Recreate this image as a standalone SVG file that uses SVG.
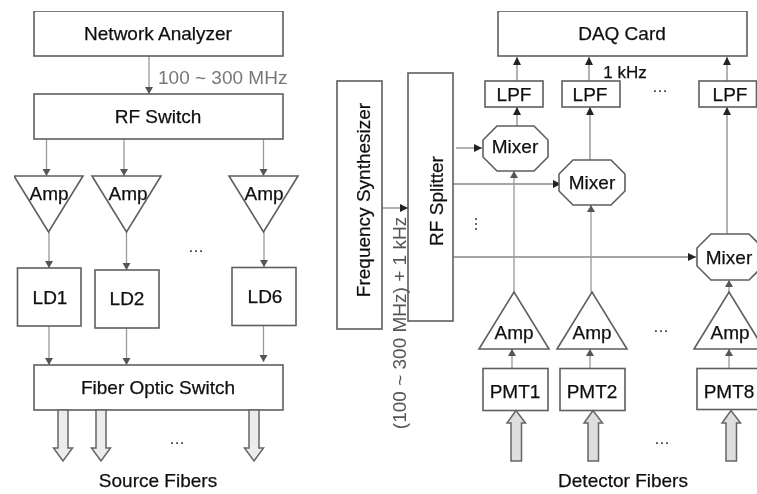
<svg xmlns="http://www.w3.org/2000/svg" width="757" height="494" viewBox="0 0 757 494">
<style>
.b{fill:#fff;stroke:#5e5e5e;stroke-width:1.6}
.t{font-family:"Liberation Sans",Arial,sans-serif;font-size:19px;fill:#111;stroke:#111;stroke-width:.25;text-anchor:middle}
.d{font-family:"Liberation Sans",Arial,sans-serif;font-size:16px;fill:#222;text-anchor:middle}
.c{fill:none;stroke:#999;stroke-width:1.3;marker-end:url(#a)}
.k{fill:none;stroke:#888;stroke-width:1.3;marker-end:url(#k)}
.f{fill:#ececec;stroke:#666;stroke-width:1.5}
.h{fill:#dedede;stroke:#666;stroke-width:1.5}
</style>
<defs>
<marker id="a" markerUnits="userSpaceOnUse" markerWidth="8" markerHeight="9" refX="7" refY="4" orient="auto"><path d="M0,0 L7,4 L0,8 Z" fill="#555"/></marker>
<marker id="k" markerUnits="userSpaceOnUse" markerWidth="9" markerHeight="9" refX="8" refY="4" orient="auto"><path d="M0,0 L8,4 L0,8 Z" fill="#222"/></marker>
<filter id="s" x="0" y="0" width="100%" height="100%"><feGaussianBlur stdDeviation="0.5"/></filter>
</defs>
<rect width="757" height="494" fill="#fff"/>
<g filter="url(#s)">
<g id="connectors">
<path class="c" d="M149,56V94"/>
<path class="c" d="M46.500,139V176"/>
<path class="c" d="M124,139V176"/>
<path class="c" d="M263.500,139V176"/>
<path class="c" d="M49,232V268"/>
<path class="c" d="M126.500,232V270"/>
<path class="c" d="M264,232V267"/>
<path class="c" d="M49,326V365"/>
<path class="c" d="M126.500,328V365"/>
<path class="c" d="M263.500,325V362"/>
<path class="k" d="M382,208H408"/>
<path class="k" d="M456,148H482"/>
<path class="k" d="M453,184H561"/>
<path class="k" d="M453,257H696"/>
<path class="k" d="M517,81V57"/>
<path class="k" d="M589,81V57"/>
<path class="k" d="M727,81V57"/>
<path class="k" d="M517,126V107"/>
<path class="k" d="M590,160V107"/>
<path class="k" d="M727,234V107"/>
<path class="c" d="M514,292V171"/>
<path class="c" d="M591,292V205"/>
<path class="c" d="M729,292V280"/>
<path class="c" d="M512,368V349"/>
<path class="c" d="M590,368V349"/>
<path class="c" d="M729,368V349"/>
</g>
<g id="network-analyzer"><rect class="b" x="34" y="11" width="249" height="45"/><text class="t" x="158" y="40">Network Analyzer</text></g>
<text x="158" y="84" font-family="'Liberation Sans',Arial,sans-serif" font-size="19" fill="#777">100 ~ 300 MHz</text>
<g id="rf-switch"><rect class="b" x="34" y="94" width="249" height="45"/><text class="t" x="158" y="123">RF Switch</text></g>
<g id="amp-s1"><path class="b" d="M14,176H83L48.500,232Z"/><text class="t" x="49" y="200">Amp</text></g>
<g id="amp-s2"><path class="b" d="M92,176H161L126.500,232Z"/><text class="t" x="128" y="200">Amp</text></g>
<g id="amp-s6"><path class="b" d="M229,176H298L263.500,232Z"/><text class="t" x="264" y="200">Amp</text></g>
<text class="d" x="196" y="252">…</text>
<g id="ld1"><rect class="b" x="17.500" y="268" width="63.500" height="58"/><text class="t" x="50" y="304">LD1</text></g>
<g id="ld2"><rect class="b" x="95" y="270" width="64" height="58"/><text class="t" x="127" y="305">LD2</text></g>
<g id="ld6"><rect class="b" x="232" y="267.500" width="64" height="58"/><text class="t" x="265" y="303">LD6</text></g>
<g id="fiber-optic-switch"><rect class="b" x="34" y="365" width="249" height="45"/><text class="t" x="158" y="394">Fiber Optic Switch</text></g>
<g id="source-fibers">
<path class="f" d="M58,410H68V448H72.500L63,461L53.500,448H58Z"/>
<path class="f" d="M96,410H106V448H110.500L101,461L91.500,448H96Z"/>
<path class="f" d="M249,410H259V448H263.500L254,461L244.500,448H249Z"/>
</g>
<text class="d" x="177" y="444">…</text>
<text class="t" x="158" y="487">Source Fibers</text>
<g id="daq-card"><rect class="b" x="498" y="11" width="249" height="45"/><text class="t" x="622" y="40">DAQ Card</text></g>
<g id="frequency-synthesizer"><rect class="b" x="337" y="81" width="45" height="248"/><text class="t" transform="translate(370,200) rotate(-90)">Frequency Synthesizer</text></g>
<g id="rf-splitter"><rect class="b" x="408" y="73" width="45" height="248"/><text class="t" transform="translate(443,201) rotate(-90)">RF Splitter</text></g>
<text transform="translate(406,323) rotate(-90)" text-anchor="middle" font-family="'Liberation Sans',Arial,sans-serif" font-size="19" fill="#555">(100 ~ 300 MHz) + 1 kHz</text>
<text class="d" transform="translate(477,224) rotate(-90)">…</text>
<g id="lpf1"><rect class="b" x="485" y="81" width="58" height="26"/><text class="t" x="514" y="101">LPF</text></g>
<g id="lpf2"><rect class="b" x="562" y="81" width="58" height="26"/><text class="t" x="590" y="101">LPF</text></g>
<g id="lpf3"><rect class="b" x="699" y="81" width="57.500" height="26"/><text class="t" x="730" y="101">LPF</text></g>
<text class="t" x="625" y="78" style="font-size:17px">1 kHz</text>
<text class="d" x="660" y="92">…</text>
<g id="mixer1"><path class="b" d="M497,126H534L548,140V157L534,171H497L483,157V140Z"/><text class="t" x="515" y="153">Mixer</text></g>
<g id="mixer2"><path class="b" d="M573,160H611L625,174V191L611,205H573L559,191V174Z"/><text class="t" x="592" y="189">Mixer</text></g>
<g id="mixer3"><path class="b" d="M711,234H749L763,248V266L749,280H711L697,266V248Z"/><text class="t" x="729" y="264">Mixer</text></g>
<g id="amp-d1"><path class="b" d="M479,349H549L514,292Z"/><text class="t" x="514" y="339">Amp</text></g>
<g id="amp-d2"><path class="b" d="M557,349H627L592,292Z"/><text class="t" x="592" y="339">Amp</text></g>
<g id="amp-d8"><path class="b" d="M694,349H764L729,292Z"/><text class="t" x="730" y="339">Amp</text></g>
<text class="d" x="661" y="332">…</text>
<g id="pmt1"><rect class="b" x="483" y="368.500" width="65" height="42"/><text class="t" x="515" y="398">PMT1</text></g>
<g id="pmt2"><rect class="b" x="560" y="368.500" width="65" height="42"/><text class="t" x="592" y="398">PMT2</text></g>
<g id="pmt8"><rect class="b" x="697" y="368.500" width="65" height="41"/><text class="t" x="729" y="398">PMT8</text></g>
<g id="detector-fibers">
<path class="h" d="M511,461V423H507L516,410.500L525.500,423H521.500V461Z"/>
<path class="h" d="M588,461V423H584L593,410.500L602.500,423H598.500V461Z"/>
<path class="h" d="M726,461V423H722L731,410.500L740.500,423H736.500V461Z"/>
</g>
<text class="d" x="662" y="444">…</text>
<text class="t" x="623" y="487">Detector Fibers</text>
</g>
</svg>
